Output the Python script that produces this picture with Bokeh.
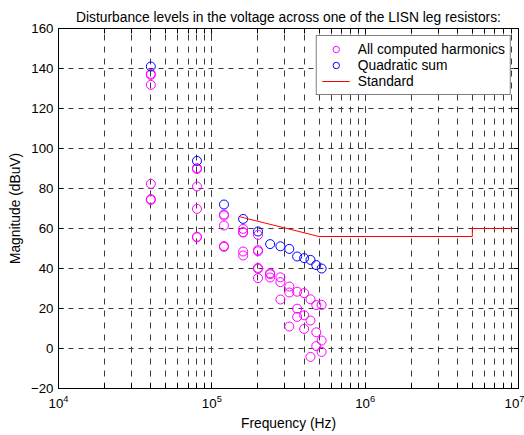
from bokeh.plotting import figure
from bokeh.models import (Range1d, LogAxis, LinearAxis, LogTicker, FixedTicker,
                          Legend, LegendItem, CustomJSTickFormatter)
from bokeh.embed import file_html
from bokeh.resources import INLINE

FONT = "Liberation Sans"
FS_TICK = "13.3px"
FS_TEXT = "13.8px"

# Harmonic frequencies of the converter (kHz) and the quadratic sum per harmonic (dBuV)
harmonic_khz = [40, 80, 120, 160, 200, 240, 280, 320, 360, 400, 440, 480, 520]
quadratic_sum_dbuv = [141.0, 93.8, 72.0, 64.8, 58.5, 52.2, 51.1, 49.8, 46.0,
                      45.2, 44.3, 41.7, 40.0]

# Every computed harmonic component (frequency in kHz, level in dBuV)
component_khz = [40, 40, 40, 40, 40, 40,
                 80, 80, 80, 80, 80, 80,
                 120, 120, 120, 120, 120,
                 160, 160, 160, 160, 160,
                 200, 200, 200, 200, 200, 200,
                 240, 240, 240,
                 280, 280, 280,
                 320, 320, 320,
                 360, 360, 360,
                 400, 400, 400,
                 440, 440, 440,
                 480, 480, 480,
                 520, 520, 520]
component_dbuv = [137.3, 136.8, 131.8, 82.3, 74.7, 74.3,
                  90.2, 89.7, 81.0, 69.8, 55.9, 55.6,
                  67.0, 66.5, 61.5, 51.2, 50.8,
                  59.8, 58.2, 58.0, 48.5, 46.5,
                  56.8, 49.2, 48.6, 40.3, 39.9, 35.2,
                  37.6, 37.1, 35.5,
                  35.6, 33.2, 24.5,
                  31.0, 28.0, 11.0,
                  28.4, 19.9, 15.8,
                  27.7, 16.6, 9.8,
                  24.6, 14.0, -4.2,
                  21.7, 8.1, 1.2,
                  21.8, 4.0, -1.7]

# Conducted emission limit (Hz, dBuV)
limit_hz = [1.5e5, 5e5, 5e6, 5e6, 3e7]
limit_dbuv = [66, 56, 56, 60, 60]

y_ticks = [-20, 0, 20, 40, 60, 80, 100, 120, 140, 160]

p = figure(width=524, height=435, x_axis_type="log",
           x_range=Range1d(1e4, 1e7), y_range=Range1d(-20, 160),
           output_backend="svg", toolbar_location=None,
           title="Disturbance levels in the voltage across one of the LISN leg resistors:")
p.min_border_left = 58
p.min_border_right = 6
p.min_border_top = 28
p.min_border_bottom = 47
p.background_fill_color = "white"
p.border_fill_color = "white"
p.outline_line_color = "black"
p.outline_line_width = 1

p.title.text_font = FONT
p.title.text_font_size = FS_TEXT
p.title.text_font_style = "normal"
p.title.align = "center"
p.title.vertical_align = "top"
p.title.standoff = 4
p.title.text_color = "black"

# bottom / left axes
xa = p.xaxis[0]
ya = p.yaxis[0]
xa.ticker = LogTicker(num_minor_ticks=10)
ya.ticker = FixedTicker(ticks=y_ticks)
for ax in (xa, ya):
    ax.major_label_text_font = FONT
    ax.major_label_text_font_size = FS_TICK
    ax.major_label_text_color = "black"
    ax.axis_label_text_font = FONT
    ax.axis_label_text_font_size = FS_TEXT
    ax.axis_label_text_font_style = "normal"
    ax.axis_label_text_color = "black"
    ax.axis_line_color = "black"
    ax.major_tick_line_color = "black"
    ax.minor_tick_line_color = "black"
    ax.major_tick_in = 5
    ax.major_tick_out = 0
    ax.minor_tick_in = 5
    ax.minor_tick_out = 0
xa.axis_label = "Frequency (Hz)"
ya.axis_label = "Magnitude (dBuV)"
ya.minor_tick_line_color = None
xa.major_label_standoff = 6
ya.major_label_standoff = 5
ya.axis_label_standoff = 5

# mirrored axes on top and right (ticks only, blank labels)
blank = CustomJSTickFormatter(code="return ''")
top = LogAxis(ticker=LogTicker(num_minor_ticks=10), formatter=blank,
              major_tick_in=5, major_tick_out=0, minor_tick_in=5, minor_tick_out=0,
              major_label_standoff=0, axis_line_color="black",
              major_tick_line_color="black", minor_tick_line_color="black")
right = LinearAxis(ticker=FixedTicker(ticks=y_ticks), formatter=blank,
                   major_tick_in=5, major_tick_out=0, minor_tick_line_color=None,
                   major_label_standoff=0, axis_line_color="black",
                   major_tick_line_color="black")
p.add_layout(top, "above")
p.add_layout(right, "right")

# dashed grid
p.xgrid.ticker = xa.ticker
p.xgrid.grid_line_color = "#3a3a3a"
p.xgrid.grid_line_dash = "6 6"
p.xgrid.minor_grid_line_color = "#3a3a3a"
p.xgrid.minor_grid_line_dash = "6 6"
p.ygrid.ticker = ya.ticker
p.ygrid.grid_line_color = "#3a3a3a"
p.ygrid.grid_line_dash = "5 5"

comp_hz = [f * 1e3 for f in component_khz]
harm_hz = [f * 1e3 for f in harmonic_khz]

r_all = p.scatter(comp_hz, component_dbuv, marker="circle", size=9,
                  fill_color=None, line_color="#ff00ff", line_width=1)
r_sum = p.scatter(harm_hz, quadratic_sum_dbuv, marker="circle", size=9,
                  fill_color=None, line_color="#0000ff", line_width=1)
r_lim = p.line(limit_hz, limit_dbuv, line_color="#ff0000", line_width=1)

legend = Legend(items=[LegendItem(label="All computed harmonics", renderers=[r_all]),
                       LegendItem(label="Quadratic sum", renderers=[r_sum]),
                       LegendItem(label="Standard", renderers=[r_lim])],
                location="top_right")
legend.margin = 7
legend.padding = 5
legend.spacing = 0
legend.glyph_width = 28
legend.glyph_height = 16
legend.label_height = 16
legend.label_standoff = 8
legend.label_text_font = FONT
legend.label_text_font_size = FS_TEXT
legend.label_text_color = "black"
legend.border_line_color = "black"
legend.border_line_width = 1
legend.background_fill_color = "white"
legend.background_fill_alpha = 1
p.add_layout(legend)

open("out.html", "w").write(file_html(p, INLINE))
